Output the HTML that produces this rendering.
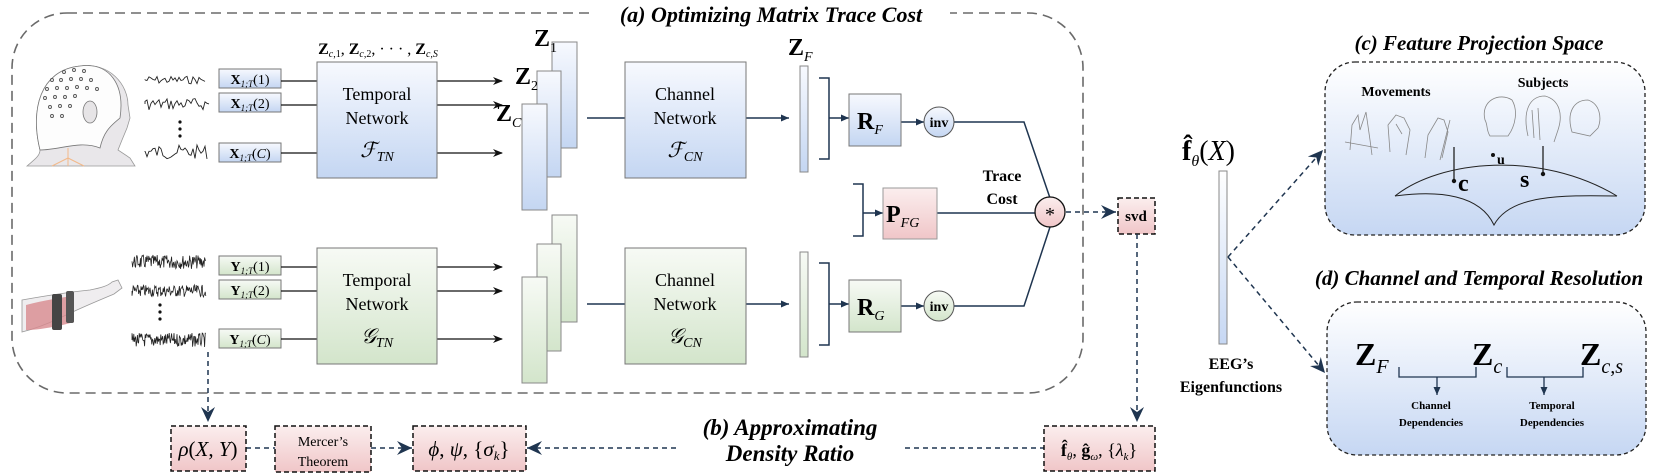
<!DOCTYPE html>
<html><head><meta charset="utf-8">
<style>
html,body{margin:0;padding:0;background:#fff;}
svg{display:block;}
svg text{font-family:"Liberation Serif","DejaVu Serif","Times New Roman",serif;}
.bi{font-weight:bold;font-style:italic;}
</style></head>
<body>
<svg id="s" width="1661" height="475" viewBox="0 0 1661 475" xmlns="http://www.w3.org/2000/svg" font-family="Liberation Serif, DejaVu Serif, serif">
<defs>
<linearGradient id="gb" x1="0" y1="0" x2="0" y2="1"><stop offset="0" stop-color="#f7f9fe"/><stop offset="1" stop-color="#c4d6f2"/></linearGradient>
<linearGradient id="gg" x1="0" y1="0" x2="0" y2="1"><stop offset="0" stop-color="#f7faf5"/><stop offset="1" stop-color="#d3e5cb"/></linearGradient>
<linearGradient id="gp" x1="0" y1="0" x2="0" y2="1"><stop offset="0" stop-color="#fbeeee"/><stop offset="1" stop-color="#f0c6c8"/></linearGradient>
<linearGradient id="gc" x1="0" y1="0" x2="0" y2="1"><stop offset="0" stop-color="#ffffff"/><stop offset="1" stop-color="#c6d7f3"/></linearGradient>
<marker id="ak" markerWidth="10" markerHeight="8" refX="9" refY="4" orient="auto" markerUnits="userSpaceOnUse"><path d="M0,0 L10,4 L0,8 L3,4z" fill="#111"/></marker>
<marker id="an" markerWidth="8" markerHeight="7" refX="8" refY="3.5" orient="auto" markerUnits="userSpaceOnUse"><path d="M0,0 L8,3.5 L0,7z" fill="#1f3550"/></marker>
<marker id="ab" markerWidth="16" markerHeight="14" refX="15" refY="7" orient="auto" markerUnits="userSpaceOnUse"><path d="M0,0 L15,7 L0,14 L5,7z" fill="#1f3550"/></marker>
</defs>

<rect x="12" y="13" width="1071" height="380" rx="55" fill="none" stroke="#6a6a6a" stroke-width="1.6" stroke-dasharray="10,6"/>
<rect x="592" y="2" width="358" height="24" fill="#fff"/>
<text x="771" y="22" text-anchor="middle" class="bi" font-size="22">(a) Optimizing Matrix Trace Cost</text>

<g>
<path d="M40,150 C30,110 40,70 80,66 C110,62 128,85 128,105 L130,118 L127,128 L122,140 L118,150 L130,158 L135,166 L27,166 C34,160 40,156 40,150z" fill="#e9e7ea" stroke="#999" stroke-width="0.8"/>
<path d="M40,150 C30,110 40,70 80,66 C110,62 125,85 120,118 C112,125 104,130 100,148 C80,140 60,150 40,150z" fill="#fdfdfd" stroke="#777" stroke-width="0.8"/>
<ellipse cx="90" cy="112" rx="7" ry="11" fill="#e6e4e6" stroke="#777" stroke-width="0.8"/>
<path d="M68,148 L68,166 M68,158 L52,166 M68,158 L84,166" stroke="#f2b98a" stroke-width="1" fill="none"/>
<g fill="none" stroke="#555" stroke-width="0.9">
<circle cx="64" cy="72" r="1.5"/><circle cx="74" cy="70" r="1.5"/><circle cx="84" cy="71" r="1.5"/>
<circle cx="52" cy="80" r="1.5"/><circle cx="61" cy="80" r="1.5"/><circle cx="71" cy="79" r="1.5"/><circle cx="81" cy="79" r="1.5"/><circle cx="91" cy="80" r="1.5"/>
<circle cx="47" cy="89" r="1.5"/><circle cx="57" cy="88" r="1.5"/><circle cx="67" cy="88" r="1.5"/><circle cx="77" cy="87" r="1.5"/><circle cx="87" cy="88" r="1.5"/><circle cx="97" cy="89" r="1.5"/>
<circle cx="45" cy="98" r="1.5"/><circle cx="55" cy="97" r="1.5"/><circle cx="65" cy="97" r="1.5"/><circle cx="75" cy="96" r="1.5"/>
<circle cx="50" cy="107" r="1.5"/><circle cx="60" cy="106" r="1.5"/><circle cx="70" cy="106" r="1.5"/>
<circle cx="52" cy="116" r="1.5"/><circle cx="62" cy="116" r="1.5"/>
</g>
</g>
<g>
<path d="M22,300 C50,295 70,292 90,290 C100,288 108,286 112,282 L118,280 L122,288 L114,294 C100,300 80,308 60,318 C45,325 30,330 22,332z" fill="#efedef" stroke="#999" stroke-width="0.8"/>
<path d="M26,305 C45,300 60,298 72,296 L74,322 C60,326 40,330 26,330z" fill="#d88a8e" opacity="0.8"/>
<rect x="52" y="294" width="10" height="36" fill="#444" rx="2"/>
<rect x="66" y="291" width="8" height="32" fill="#555" rx="2"/>
</g>

<g id="sig" fill="none" stroke="#222" stroke-width="0.9"></g>
<g fill="#111"><circle cx="180" cy="122" r="1.6"/><circle cx="180" cy="129" r="1.6"/><circle cx="180" cy="136" r="1.6"/>
<circle cx="160" cy="305" r="1.6"/><circle cx="160" cy="312" r="1.6"/><circle cx="160" cy="319" r="1.6"/></g>

<g stroke="#777" stroke-width="1">
<rect x="219" y="69" width="62" height="19" fill="url(#gb)"/>
<rect x="219" y="93" width="62" height="19" fill="url(#gb)"/>
<rect x="219" y="143" width="62" height="19" fill="url(#gb)"/>
<rect x="219" y="256" width="62" height="19" fill="url(#gg)"/>
<rect x="219" y="280" width="62" height="19" fill="url(#gg)"/>
<rect x="219" y="329" width="62" height="19" fill="url(#gg)"/>
</g>
<g font-size="14" text-anchor="middle">
<text x="250" y="84"><tspan font-weight="bold">X</tspan><tspan font-size="9" font-style="italic" dy="3">1;T</tspan><tspan dy="-3">(1)</tspan></text>
<text x="250" y="108"><tspan font-weight="bold">X</tspan><tspan font-size="9" font-style="italic" dy="3">1;T</tspan><tspan dy="-3">(2)</tspan></text>
<text x="250" y="158"><tspan font-weight="bold">X</tspan><tspan font-size="9" font-style="italic" dy="3">1;T</tspan><tspan dy="-3">(</tspan><tspan font-style="italic">C</tspan>)</text>
<text x="250" y="271"><tspan font-weight="bold">Y</tspan><tspan font-size="9" font-style="italic" dy="3">1;T</tspan><tspan dy="-3">(1)</tspan></text>
<text x="250" y="295"><tspan font-weight="bold">Y</tspan><tspan font-size="9" font-style="italic" dy="3">1;T</tspan><tspan dy="-3">(2)</tspan></text>
<text x="250" y="344"><tspan font-weight="bold">Y</tspan><tspan font-size="9" font-style="italic" dy="3">1;T</tspan><tspan dy="-3">(</tspan><tspan font-style="italic">C</tspan>)</text>
</g>
<g stroke="#111" stroke-width="1.3">
<line x1="281" y1="81" x2="317" y2="81"/><line x1="281" y1="105" x2="317" y2="105"/><line x1="281" y1="153" x2="317" y2="153"/>
<line x1="281" y1="267" x2="317" y2="267"/><line x1="281" y1="291" x2="317" y2="291"/><line x1="281" y1="339" x2="317" y2="339"/>
<line x1="437" y1="81" x2="502" y2="81" marker-end="url(#ak)"/><line x1="437" y1="105" x2="502" y2="105" marker-end="url(#ak)"/><line x1="437" y1="153" x2="502" y2="153" marker-end="url(#ak)"/>
<line x1="437" y1="267" x2="502" y2="267" marker-end="url(#ak)"/><line x1="437" y1="291" x2="502" y2="291" marker-end="url(#ak)"/><line x1="437" y1="339" x2="502" y2="339" marker-end="url(#ak)"/>
</g>

<rect x="317" y="62" width="120" height="116" fill="url(#gb)" stroke="#777"/>
<rect x="317" y="248" width="120" height="116" fill="url(#gg)" stroke="#777"/>
<g text-anchor="middle" font-size="18">
<text x="377" y="100">Temporal</text><text x="377" y="124">Network</text>
<text x="377" y="157" font-style="italic" font-size="21">ℱ<tspan font-size="14" dy="4">TN</tspan></text>
<text x="377" y="286">Temporal</text><text x="377" y="310">Network</text>
<text x="377" y="343" font-style="italic" font-size="21">𝒢<tspan font-size="14" dy="4">TN</tspan></text>
<text x="378" y="54" font-size="16"><tspan font-weight="bold">Z</tspan><tspan font-size="10" font-style="italic" dy="3">c</tspan><tspan font-size="10">,1</tspan><tspan dy="-3">, </tspan><tspan font-weight="bold">Z</tspan><tspan font-size="10" font-style="italic" dy="3">c</tspan><tspan font-size="10">,2</tspan><tspan dy="-3">, · · · , </tspan><tspan font-weight="bold">Z</tspan><tspan font-size="10" font-style="italic" dy="3">c,S</tspan></text>
</g>

<g stroke="#888" stroke-width="1">
<rect x="552" y="42" width="25" height="106" fill="url(#gb)"/>
<rect x="537" y="71" width="24" height="106" fill="url(#gb)"/>
<rect x="522" y="104" width="25" height="106" fill="url(#gb)"/>
<rect x="552" y="215" width="25" height="107" fill="url(#gg)"/>
<rect x="537" y="244" width="24" height="107" fill="url(#gg)"/>
<rect x="522" y="277" width="25" height="106" fill="url(#gg)"/>
</g>
<g font-weight="bold" font-size="24">
<text x="534" y="46">Z<tspan font-size="14" font-weight="normal" dy="6">1</tspan></text>
<text x="515" y="84">Z<tspan font-size="14" font-weight="normal" dy="6">2</tspan></text>
<text x="496" y="121">Z<tspan font-size="14" font-weight="normal" font-style="italic" dy="6">C</tspan></text>
</g>

<g stroke="#1f3550" stroke-width="1.5">
<line x1="587" y1="118" x2="625" y2="118"/><line x1="746" y1="118" x2="789" y2="118" marker-end="url(#an)"/>
<line x1="587" y1="304" x2="625" y2="304"/><line x1="746" y1="304" x2="789" y2="304" marker-end="url(#an)"/>
</g>
<rect x="625" y="62" width="121" height="116" fill="url(#gb)" stroke="#777"/>
<rect x="625" y="248" width="121" height="116" fill="url(#gg)" stroke="#777"/>
<g text-anchor="middle" font-size="18">
<text x="685" y="100">Channel</text><text x="685" y="124">Network</text>
<text x="685" y="157" font-style="italic" font-size="21">ℱ<tspan font-size="14" dy="4">CN</tspan></text>
<text x="685" y="286">Channel</text><text x="685" y="310">Network</text>
<text x="685" y="343" font-style="italic" font-size="21">𝒢<tspan font-size="14" dy="4">CN</tspan></text>
</g>
<rect x="800" y="66" width="8" height="106" fill="url(#gb)" stroke="#888"/>
<rect x="800" y="252" width="8" height="105" fill="url(#gg)" stroke="#888"/>
<text x="788" y="55" font-weight="bold" font-size="24">Z<tspan font-size="14" font-weight="normal" font-style="italic" dy="6">F</tspan></text>

<g stroke="#1f3550" stroke-width="1.5" fill="none">
<path d="M819,78 H829 V159 H819"/><path d="M819,345 H829 V263 H819"/>
<path d="M853,184 H863 V236 H853"/>
<line x1="829" y1="118" x2="849" y2="118" marker-end="url(#an)"/>
<line x1="829" y1="304" x2="849" y2="304" marker-end="url(#an)"/>
<line x1="863" y1="213" x2="883" y2="213" marker-end="url(#an)"/>
<line x1="901" y1="122" x2="924" y2="122" marker-end="url(#an)"/>
<line x1="901" y1="306" x2="924" y2="306" marker-end="url(#an)"/>
<path d="M954,122 H1024 L1050,198"/>
<path d="M954,306 H1024 L1050,227"/>
<line x1="937" y1="213" x2="1035" y2="213"/>
</g>
<rect x="849" y="94" width="52" height="52" fill="url(#gb)" stroke="#777"/>
<rect x="849" y="280" width="52" height="52" fill="url(#gg)" stroke="#777"/>
<rect x="883" y="188" width="54" height="51" fill="url(#gp)" stroke="#999"/>
<g font-weight="bold" font-size="24">
<text x="857" y="129">R<tspan font-size="14" font-weight="normal" font-style="italic" dy="5">F</tspan></text>
<text x="857" y="315">R<tspan font-size="14" font-weight="normal" font-style="italic" dy="5">G</tspan></text>
<text x="886" y="222">P<tspan font-size="14" font-weight="normal" font-style="italic" dy="5">FG</tspan></text>
</g>
<circle cx="939" cy="122" r="15" fill="url(#gb)" stroke="#555"/>
<circle cx="939" cy="306" r="15" fill="url(#gg)" stroke="#555"/>
<g font-weight="bold" font-size="14" text-anchor="middle">
<text x="939" y="127">inv</text><text x="939" y="311">inv</text>
<text x="1002" y="181" font-size="16">Trace</text><text x="1002" y="204" font-size="16">Cost</text>
</g>
<circle cx="1050" cy="212" r="15" fill="url(#gp)" stroke="#111" stroke-width="1.3"/>
<text x="1050" y="221" text-anchor="middle" font-size="20">*</text>

<line x1="1066" y1="212" x2="1116" y2="212" stroke="#1f3550" stroke-width="1.5" stroke-dasharray="5,4" marker-end="url(#ab)"/>
<rect x="1118" y="198" width="37" height="36" fill="url(#gp)" stroke="#111" stroke-width="1.5" stroke-dasharray="5,3"/>
<text x="1136" y="221" text-anchor="middle" font-weight="bold" font-size="15">svd</text>
<line x1="1137" y1="234" x2="1137" y2="422" stroke="#1f3550" stroke-width="1.5" stroke-dasharray="5,4" marker-end="url(#ab)"/>

<line x1="208" y1="352" x2="208" y2="422" stroke="#1f3550" stroke-width="1.5" stroke-dasharray="5,4" marker-end="url(#ab)"/>
<g stroke="#1f3550" stroke-width="1.5" stroke-dasharray="5,4" fill="none">
<line x1="246" y1="448" x2="275" y2="448"/>
<line x1="371" y1="448" x2="412" y2="448" marker-end="url(#ab)"/>
<line x1="676" y1="448" x2="527" y2="448" marker-end="url(#ab)"/>
<line x1="905" y1="448" x2="1044" y2="448"/>
</g>
<g fill="url(#gp)" stroke="#111" stroke-width="1.5" stroke-dasharray="5,3">
<rect x="171" y="426" width="75" height="45"/>
<rect x="275" y="426" width="96" height="46"/>
<rect x="413" y="426" width="113" height="45"/>
<rect x="1044" y="426" width="111" height="45"/>
</g>
<g text-anchor="middle">
<text x="208" y="456" font-size="21" font-style="italic">ρ<tspan font-style="normal">(</tspan>X<tspan font-style="normal">, </tspan>Y<tspan font-style="normal">)</tspan></text>
<text x="323" y="446" font-size="14">Mercer’s</text><text x="323" y="466" font-size="14">Theorem</text>
<text x="469" y="456" font-size="21"><tspan font-style="italic">ϕ</tspan>, <tspan font-style="italic">ψ</tspan>, {<tspan font-style="italic">σ</tspan><tspan font-size="13" font-style="italic" dy="4">k</tspan><tspan dy="-4">}</tspan></text>
<text x="1099" y="456" font-size="18"><tspan font-weight="bold">f̂</tspan><tspan font-size="11" font-style="italic" dy="4">θ</tspan><tspan dy="-4">, </tspan><tspan font-weight="bold">ĝ</tspan><tspan font-size="11" font-style="italic" dy="4">ω</tspan><tspan dy="-4">, {</tspan><tspan font-style="italic">λ</tspan><tspan font-size="11" font-style="italic" dy="4">k</tspan><tspan dy="-4">}</tspan></text>
</g>
<text x="790" y="435" text-anchor="middle" class="bi" font-size="23">(b) Approximating</text>
<text x="790" y="461" text-anchor="middle" class="bi" font-size="23">Density Ratio</text>

<text x="1182" y="160" font-size="28"><tspan font-weight="bold">f̂</tspan><tspan font-size="16" font-style="italic" dy="6">θ</tspan><tspan dy="-6">(</tspan><tspan font-style="italic">X</tspan>)</text>
<rect x="1219" y="171" width="8" height="173" fill="url(#gc)" stroke="#888"/>
<text x="1231" y="369" text-anchor="middle" font-weight="bold" font-size="16">EEG’s</text>
<text x="1231" y="392" text-anchor="middle" font-weight="bold" font-size="16">Eigenfunctions</text>
<line x1="1228" y1="257" x2="1323" y2="150" stroke="#1f3550" stroke-width="1.5" stroke-dasharray="5,4" marker-end="url(#ab)"/>
<line x1="1228" y1="257" x2="1325" y2="373" stroke="#1f3550" stroke-width="1.5" stroke-dasharray="5,4" marker-end="url(#ab)"/>

<text x="1479" y="50" text-anchor="middle" class="bi" font-size="21">(c) Feature Projection Space</text>
<rect x="1325" y="62" width="320" height="173" rx="30" fill="url(#gc)" stroke="#222" stroke-width="1.3" stroke-dasharray="4,3"/>
<text x="1396" y="96" text-anchor="middle" font-weight="bold" font-size="14">Movements</text>
<text x="1543" y="87" text-anchor="middle" font-weight="bold" font-size="14">Subjects</text>
<g fill="none" stroke="#888" stroke-width="0.8">
<path d="M1350,150 L1352,125 L1358,115 L1360,130 L1366,112 L1370,140 L1372,155 M1345,142 L1378,148"/>
<path d="M1390,152 L1388,125 L1396,115 L1404,118 L1410,130 L1406,155 M1396,124 L1402,134"/>
<path d="M1425,158 L1428,135 L1438,118 L1444,120 L1448,132 L1442,158 M1450,120 L1440,160"/>
<path d="M1485,120 C1480,100 1500,92 1512,100 C1518,110 1516,125 1508,136 L1490,136 C1486,130 1488,125 1485,120z"/>
<path d="M1528,136 C1522,110 1530,96 1545,96 C1560,100 1563,115 1558,130 L1554,142 M1532,110 L1534,138 M1538,108 L1540,140"/>
<path d="M1572,132 C1566,112 1574,100 1588,100 C1600,104 1602,118 1598,128 L1590,136z"/>
</g>
<g fill="none" stroke="#222" stroke-width="1">
<path d="M1395,196 C1440,160 1540,150 1617,196"/>
<path d="M1395,196 C1440,190 1480,195 1494,225 C1510,195 1560,195 1617,196"/>
</g>
<g stroke="#222" stroke-width="1.3"><line x1="1454" y1="181" x2="1454" y2="147"/><line x1="1543" y1="174" x2="1543" y2="146"/></g>
<g fill="#111"><circle cx="1454" cy="181" r="2.2"/><circle cx="1543" cy="174" r="2.2"/><circle cx="1493" cy="155" r="2"/></g>
<g font-weight="bold"><text x="1458" y="191" font-size="24">c</text><text x="1497" y="164" font-size="14">u</text><text x="1520" y="187" font-size="24">s</text></g>

<text x="1479" y="285" text-anchor="middle" class="bi" font-size="21">(d) Channel and Temporal Resolution</text>
<rect x="1327" y="302" width="319" height="153" rx="30" fill="url(#gc)" stroke="#222" stroke-width="1.3" stroke-dasharray="4,3"/>
<g font-weight="bold" font-size="32">
<text x="1355" y="365">Z<tspan font-size="20" font-weight="normal" font-style="italic" dy="8">F</tspan></text>
<text x="1472" y="365">Z<tspan font-size="20" font-weight="normal" font-style="italic" dy="8">c</tspan></text>
<text x="1580" y="365">Z<tspan font-size="20" font-weight="normal" font-style="italic" dy="8">c,s</tspan></text>
</g>
<g stroke="#1f3550" stroke-width="1.3" fill="none">
<path d="M1399,367 V377 H1476 V367"/><line x1="1437" y1="377" x2="1437" y2="395" marker-end="url(#an)"/>
<path d="M1507,367 V377 H1583 V367"/><line x1="1544" y1="377" x2="1544" y2="395" marker-end="url(#an)"/>
</g>
<g font-weight="bold" font-size="11" text-anchor="middle">
<text x="1431" y="409">Channel</text><text x="1431" y="426">Dependencies</text>
<text x="1552" y="409">Temporal</text><text x="1552" y="426">Dependencies</text>
</g>
</svg>
<script>
(function(){
var g=document.getElementById('sig');var seed=7;function r(){seed=(seed*9301+49297)%233280;return seed/233280;}
function wave(x0,x1,y,amp,step,w){var d='M'+x0+','+y;for(var x=x0;x<=x1;x+=step){d+=' L'+x.toFixed(1)+','+(y+(r()-0.5)*2*amp).toFixed(1);}
var p=document.createElementNS('http://www.w3.org/2000/svg','path');p.setAttribute('d',d);if(w)p.setAttribute('stroke-width',w);g.appendChild(p);}
wave(145,205,80,4,2);wave(145,210,104,6,2);wave(145,208,152,7,2);
wave(132,206,262,7,0.6,0.8);wave(132,206,291,6,0.6,0.8);wave(132,206,340,7,0.6,0.8);
})();
</script>
</body></html>
